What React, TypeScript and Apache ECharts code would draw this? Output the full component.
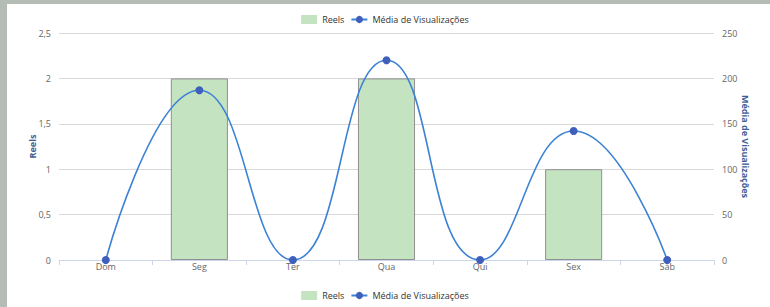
import React, { useEffect, useRef } from "react";
import * as echarts from "echarts";

const categories = ["Dom", "Seg", "Ter", "Qua", "Qui", "Sex", "Sáb"];
const reelsValues = [0, 2, 0, 2, 0, 1, 0];
const viewsValues = [0, 187, 0, 220, 0, 142, 0];
const reelsName = "Reels";
const viewsName = "Média de Visualizações";

const FONT = "Open Sans";

export default function App() {
  const ref = useRef<HTMLDivElement>(null);
  useEffect(() => {
    document.body.style.margin = "0";
    const chart = echarts.init(ref.current!, null, { renderer: "svg" });
    const legendBase = {
      left: "center",
      itemWidth: 16,
      itemHeight: 9,
      itemGap: 6,
      textStyle: { fontFamily: FONT, fontSize: 9, color: "#333" },
      data: [
        { name: reelsName, icon: "rect", itemStyle: { borderWidth: 0 } },
        { name: viewsName },
      ],
    };
    chart.setOption({
      animation: false,
      backgroundColor: "#ffffff",
      graphic: [
        { type: "rect", left: 0, top: 0, shape: { width: 770, height: 4 }, style: { fill: "#b5bbb5" }, z: -10 },
        { type: "rect", left: 0, top: 0, shape: { width: 7, height: 307 }, style: { fill: "#b5bbb5" }, z: -10 },
      ],
      legend: [
        { ...legendBase, top: 10 },
        { ...legendBase, top: 286 },
      ],
      grid: { left: 59, right: 56, top: 33, bottom: 47 },
      xAxis: {
        type: "category",
        data: categories,
        boundaryGap: true,
        axisLine: { lineStyle: { color: "#ccd6eb", width: 1 } },
        axisTick: { show: true, length: 5, lineStyle: { color: "#ccd6eb" } },
        axisLabel: { fontFamily: FONT, fontSize: 9, color: "#666", margin: 2 },
      },
      yAxis: [
        {
          type: "value",
          min: 0,
          max: 2.5,
          interval: 0.5,
          name: reelsName,
          nameLocation: "middle",
          nameGap: 22,
          nameMoveOverlap: false,
          nameTextStyle: { fontFamily: FONT, fontSize: 9, fontWeight: "bold", color: "#3e5e96" },
          axisLine: { show: false },
          axisTick: { show: false },
          splitLine: { lineStyle: { color: "#d9d9d9" } },
          axisLabel: {
            fontFamily: FONT,
            fontSize: 9,
            color: "#666",
            margin: 8,
            formatter: (v: number) => String(v).replace(".", ","),
          },
        },
        {
          type: "value",
          min: 0,
          max: 250,
          interval: 50,
          name: viewsName,
          nameLocation: "middle",
          nameGap: 27,
          nameMoveOverlap: false,
          nameRotate: -90,
          nameTextStyle: { fontFamily: FONT, fontSize: 9, fontWeight: "bold", color: "#3e5e96" },
          axisLine: { show: false },
          axisTick: { show: false },
          splitLine: { show: false },
          axisLabel: { fontFamily: FONT, fontSize: 9, color: "#666", margin: 8 },
        },
      ],
      series: [
        {
          name: reelsName,
          type: "bar",
          yAxisIndex: 0,
          data: reelsValues.map((v) => (v === 0 ? "-" : v)),
          barWidth: "61%",
          itemStyle: { color: "#c4e3c0", borderColor: "#8f8f8f", borderWidth: 1 },
        },
        {
          name: viewsName,
          type: "line",
          yAxisIndex: 1,
          data: viewsValues,
          smooth: 0.5,
          symbol: "circle",
          symbolSize: 8,
          lineStyle: { color: "#3d82d4", width: 1.6 },
          itemStyle: { color: "#3e5fbb" },
          z: 3,
        },
      ],
    });
    return () => chart.dispose();
  }, []);
  return <div ref={ref} style={{ width: 770, height: 307 }} />;
}
